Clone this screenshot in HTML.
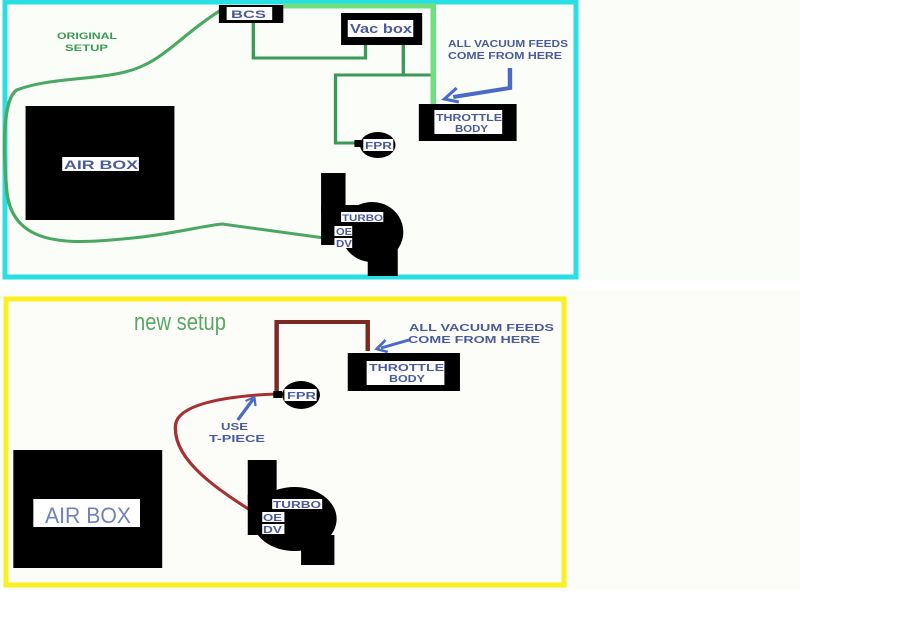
<!DOCTYPE html>
<html><head><meta charset="utf-8"><style>
html,body{margin:0;padding:0;background:#fff;width:910px;height:617px;overflow:hidden}
svg{display:block}
text{font-family:"Liberation Sans",sans-serif;font-weight:bold;fill:#4a5a9a}
</style></head><body>
<svg width="910" height="617" viewBox="0 0 910 617" xmlns="http://www.w3.org/2000/svg">
<rect width="910" height="617" fill="#fff"/>
<rect x="0" y="0" width="800" height="280" fill="#fbfdf9"/>
<rect x="0" y="290" width="800" height="300" fill="#fcfdf9"/>
<rect x="5" y="2" width="571" height="275" fill="#fbfdf9" stroke="#28e0e4" stroke-width="5"/>
<rect x="6" y="299" width="558" height="286" fill="#fcfdf9" stroke="#f8f020" stroke-width="5"/>

<g transform="scale(1.111,1)">
<g stroke="#3a9a55" stroke-width="3" fill="none">
<polyline points="228,22 228,58 329,58 329,44"/>
<polyline points="363,44 363,75"/>
<polyline points="390,75 302,75 302,143 322,143"/>
</g>
<polyline points="255,6 390,6 390,105" stroke="#6fe07f" stroke-width="5" fill="none"/>
<path d="M199,10 C170,30 150,55 130,65 C100,82 50,75 15,90 C2,100 3,150 6,190 C10,240 50,245 100,240 C150,236 180,226 200,224 L292,238" stroke="#4aa863" stroke-width="3" fill="none"/>
<rect x="197" y="5" width="58" height="18" fill="#000"/>
<rect x="204" y="7" width="41" height="13" fill="#fff"/>
<rect x="307" y="13" width="73" height="32" fill="#000"/>
<rect x="313" y="20" width="59" height="17" fill="#fff"/>
<rect x="377" y="104" width="88" height="37" fill="#000"/>
<rect x="391" y="110" width="61" height="24" fill="#fff"/>
<polyline points="459,68 459,88 408,97" stroke="#4a6ac8" stroke-width="4" fill="none"/>
<polyline points="411,88 400,99 413,102" stroke="#4a6ac8" stroke-width="3" fill="none"/>
<ellipse cx="340" cy="145" rx="16" ry="13" fill="#000"/>
<rect x="319" y="140" width="6" height="7" fill="#000"/>
<rect x="327" y="139" width="27" height="12" fill="#fff"/>
<rect x="23" y="106" width="134" height="114" fill="#000"/>
<rect x="56" y="157" width="69" height="14" fill="#fff"/>
<rect x="289" y="173" width="22" height="40" fill="#000"/>
<ellipse cx="335" cy="232" rx="28" ry="30" fill="#000"/>
<rect x="289" y="205" width="40" height="40" fill="#000"/>
<rect x="331" y="245" width="27" height="31" fill="#000"/>
<rect x="307" y="212" width="38" height="10" fill="#fff"/>
<rect x="301" y="226" width="16" height="10" fill="#fff"/>
<rect x="301" y="238" width="16" height="10" fill="#fff"/>

<polyline points="249,395 249,322 331,322 331,351" stroke="#7a2a22" stroke-width="4" fill="none"/>
<line x1="249" y1="394" x2="262" y2="394" stroke="#5a7a3a" stroke-width="3"/>
<path d="M249,394 C200,396 160,405 158,425 C155,460 195,490 244,523" stroke="#a83030" stroke-width="3" fill="none"/>
<rect x="313" y="353" width="101" height="38" fill="#000"/>
<rect x="330" y="361" width="70" height="24" fill="#fff"/>
<polyline points="368,340 343,348" stroke="#4a6ac8" stroke-width="3" fill="none"/>
<polyline points="347,340 339,349 349,352" stroke="#4a6ac8" stroke-width="2.5" fill="none"/>
<ellipse cx="271" cy="395" rx="17" ry="14" fill="#000"/>
<rect x="246" y="391" width="8" height="7" fill="#000"/>
<rect x="256" y="389" width="29" height="12" fill="#fff"/>
<polyline points="214,420 228,399" stroke="#4a6ac8" stroke-width="3" fill="none"/>
<polyline points="221,401 229,397 230,406" stroke="#4a6ac8" stroke-width="2" fill="none"/>
<rect x="12" y="450" width="134" height="118" fill="#000"/>
<rect x="30" y="499" width="96" height="28" fill="#fff"/>
<rect x="223" y="460" width="26" height="40" fill="#000"/>
<ellipse cx="265" cy="519" rx="38" ry="32" fill="#000"/>
<rect x="223" y="495" width="40" height="40" fill="#000"/>
<rect x="271" y="535" width="30" height="30" fill="#000"/>
<rect x="245" y="499" width="45" height="10" fill="#fff"/>
<rect x="236" y="512" width="20" height="10" fill="#fff"/>
<rect x="236" y="524" width="20" height="10" fill="#fff"/>
</g>

<!-- texts in true coordinates -->
<text x="57" y="39" font-size="9" textLength="60" lengthAdjust="spacingAndGlyphs" style="fill:#3a9a55">ORIGINAL</text>
<text x="65" y="51" font-size="9" textLength="43" lengthAdjust="spacingAndGlyphs" style="fill:#3a9a55">SETUP</text>
<text x="231" y="18" font-size="11" textLength="35" lengthAdjust="spacingAndGlyphs">BCS</text>
<text x="350" y="33" font-size="13" textLength="62" lengthAdjust="spacingAndGlyphs">Vac box</text>
<text x="448" y="47" font-size="10" textLength="120" lengthAdjust="spacingAndGlyphs">ALL VACUUM FEEDS</text>
<text x="448" y="59" font-size="10" textLength="114" lengthAdjust="spacingAndGlyphs">COME FROM HERE</text>
<text x="436" y="121" font-size="10" textLength="66" lengthAdjust="spacingAndGlyphs">THROTTLE</text>
<text x="455" y="132" font-size="10" textLength="33" lengthAdjust="spacingAndGlyphs">BODY</text>
<text x="365" y="149" font-size="10" textLength="27" lengthAdjust="spacingAndGlyphs">FPR</text>
<text x="64" y="169" font-size="12" textLength="74" lengthAdjust="spacingAndGlyphs">AIR BOX</text>
<text x="342" y="221" font-size="9" textLength="41" lengthAdjust="spacingAndGlyphs">TURBO</text>
<text x="336" y="235" font-size="10" textLength="16" lengthAdjust="spacingAndGlyphs">OE</text>
<text x="336" y="247" font-size="10" textLength="16" lengthAdjust="spacingAndGlyphs">DV</text>

<text x="134" y="330" font-size="24" textLength="92" lengthAdjust="spacingAndGlyphs" style="fill:#5aa865;font-weight:normal">new setup</text>
<text x="409" y="331" font-size="10" textLength="145" lengthAdjust="spacingAndGlyphs">ALL VACUUM FEEDS</text>
<text x="408" y="343" font-size="10" textLength="132" lengthAdjust="spacingAndGlyphs">COME FROM HERE</text>
<text x="369" y="371" font-size="10" textLength="75" lengthAdjust="spacingAndGlyphs">THROTTLE</text>
<text x="389" y="382" font-size="10" textLength="36" lengthAdjust="spacingAndGlyphs">BODY</text>
<text x="287" y="399" font-size="10" textLength="29" lengthAdjust="spacingAndGlyphs">FPR</text>
<text x="221" y="430" font-size="10" textLength="27" lengthAdjust="spacingAndGlyphs">USE</text>
<text x="209" y="442" font-size="10" textLength="56" lengthAdjust="spacingAndGlyphs">T-PIECE</text>
<text x="45" y="523" font-size="22" textLength="86" lengthAdjust="spacingAndGlyphs" style="font-weight:normal;fill:#7082b8">AIR BOX</text>
<text x="273" y="508" font-size="10" textLength="48" lengthAdjust="spacingAndGlyphs">TURBO</text>
<text x="263" y="521" font-size="10" textLength="19" lengthAdjust="spacingAndGlyphs">OE</text>
<text x="263" y="533" font-size="10" textLength="19" lengthAdjust="spacingAndGlyphs">DV</text>
</svg>
</body></html>
